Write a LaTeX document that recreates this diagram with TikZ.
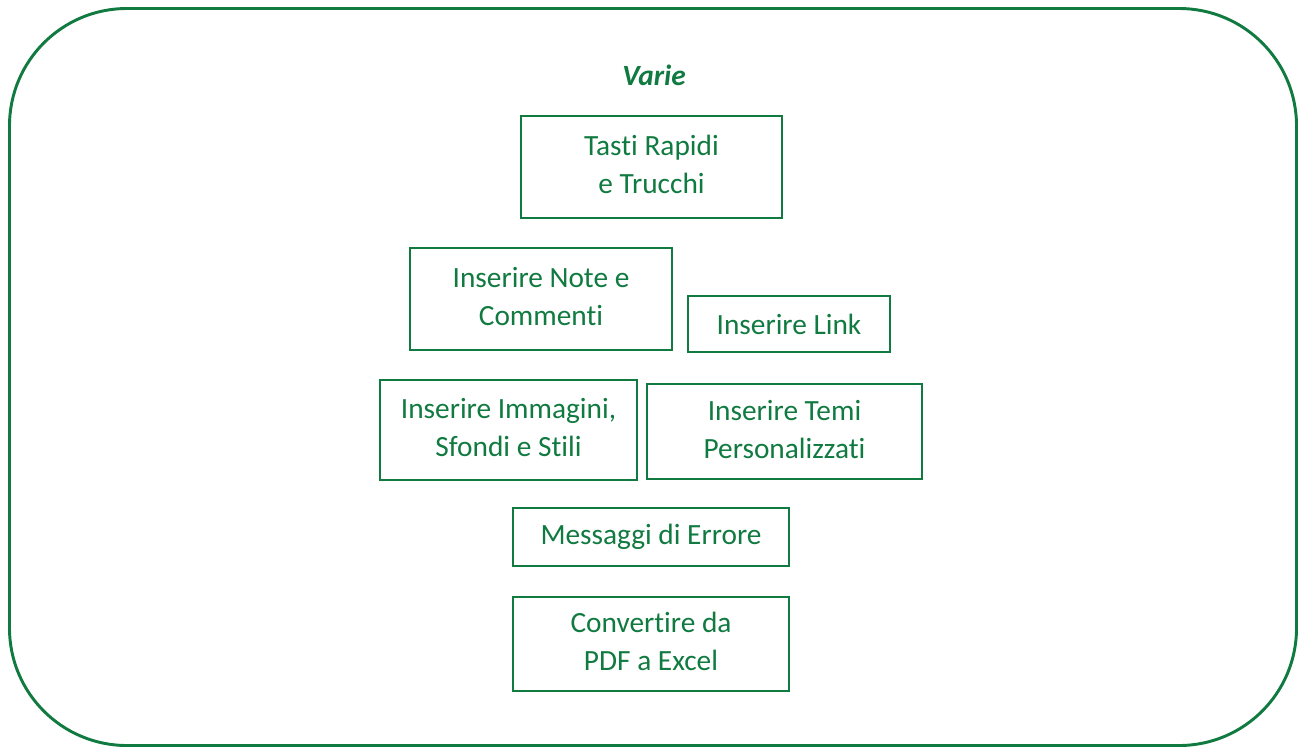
\documentclass[tikz,border=0pt]{standalone}
\usepackage{fontspec}
\setmainfont{Carlito}[Ligatures={NoCommon,NoRare,NoContextual}]
\definecolor{xlgreen}{RGB}{16,122,64}
\begin{document}
\begin{tikzpicture}[x=0.75pt,y=0.75pt,yscale=-1,xscale=1,
  topicbox/.style={draw=xlgreen,line width=1.5pt,text=xlgreen,align=center,inner sep=0.75pt,
    font=\fontsize{22}{28.5}\selectfont},
  twoline/.style={text depth=3.5pt}]
%set diagram left start at 0, and has width 1298 and height 747
\useasboundingbox (0,0) rectangle (1298,747);

%Shape: Rounded Rect [id:outer] 
\draw [color=xlgreen, line width=2.2pt, rounded corners=88pt] (9.5,8.5) rectangle (1296.5,745.5) ;

% Text Node
\node (varie) at (654,75) [text=xlgreen,font=\fontsize{22}{26}\selectfont\bfseries\itshape] {Varie};

% Text Node
\node (tasti) at (651.5,167) [topicbox,twoline,minimum width=195.75pt,minimum height=76.5pt] {Tasti Rapidi\\e Trucchi};
% Text Node
\node (note) at (541,299) [topicbox,twoline,minimum width=196.5pt,minimum height=76.5pt] {Inserire Note e\\Commenti};
% Text Node
\node (link) at (789,324) [topicbox,minimum width=151.5pt,minimum height=42pt] {Inserire Link};
% Text Node
\node (immagini) at (508.5,430) [topicbox,twoline,minimum width=192.75pt,minimum height=75pt] {Inserire Immagini,\\Sfondi e Stili};
% Text Node
\node (temi) at (784.5,431.5) [topicbox,twoline,minimum width=206.25pt,minimum height=71.25pt] {Inserire Temi\\Personalizzati};
% Text Node
\node (errore) at (651,537) [topicbox,minimum width=207pt,minimum height=43.5pt] {Messaggi di Errore};
% Text Node
\node (excel) at (651,644) [topicbox,twoline,minimum width=207pt,minimum height=70.5pt] {Convertire da\\PDF a Excel};

\end{tikzpicture}
\end{document}
